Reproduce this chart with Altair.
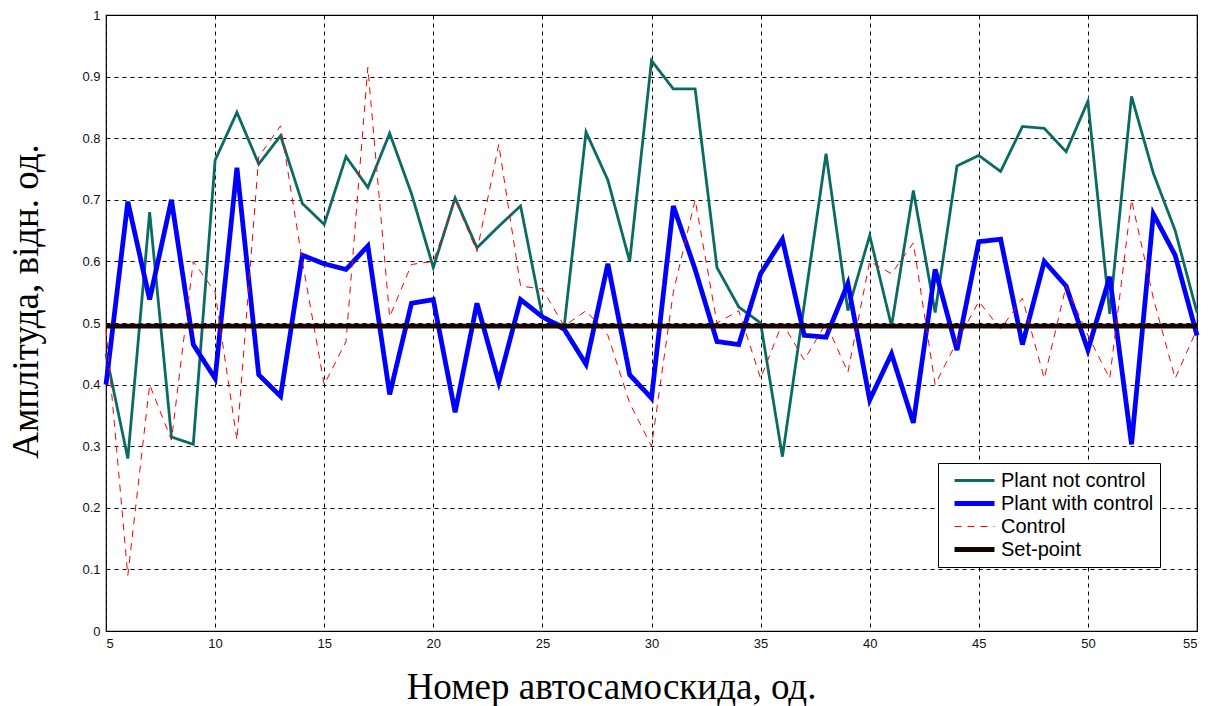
import altair as alt
import pandas as pd

x_vals = list(range(5, 56))

plant_not_control = [0.45, 0.28, 0.68, 0.315, 0.303, 0.764, 0.842, 0.758, 0.804, 0.694, 0.66,
                     0.77, 0.72, 0.808, 0.71, 0.59, 0.703, 0.622, 0.657, 0.69, 0.51,
                     0.495, 0.81, 0.732, 0.60, 0.926, 0.88, 0.88, 0.59, 0.526, 0.50,
                     0.283, 0.53, 0.775, 0.52, 0.642, 0.495, 0.715, 0.517, 0.755, 0.772,
                     0.746, 0.819, 0.816, 0.778, 0.86, 0.515, 0.868, 0.743, 0.65, 0.517]

plant_with_control = [0.40, 0.697, 0.538, 0.70, 0.465, 0.41, 0.752, 0.416, 0.381, 0.61, 0.596,
                      0.587, 0.625, 0.384, 0.532, 0.538, 0.355, 0.532, 0.404, 0.538, 0.51,
                      0.49, 0.433, 0.596, 0.416, 0.378, 0.69, 0.587, 0.47, 0.465, 0.58,
                      0.636, 0.48, 0.477, 0.564, 0.375, 0.45, 0.338, 0.587, 0.456, 0.632,
                      0.636, 0.465, 0.6, 0.56, 0.456, 0.575, 0.303, 0.677, 0.61, 0.48]

control = [0.49, 0.09, 0.40, 0.31, 0.60, 0.55, 0.31, 0.77, 0.82, 0.60, 0.40,
           0.47, 0.915, 0.51, 0.595, 0.60, 0.70, 0.616, 0.79, 0.56, 0.555,
           0.495, 0.52, 0.48, 0.37, 0.30, 0.55, 0.70, 0.50, 0.52, 0.41,
           0.50, 0.44, 0.50, 0.42, 0.60, 0.58, 0.63, 0.40, 0.47, 0.535,
           0.49, 0.54, 0.41, 0.56, 0.48, 0.41, 0.70, 0.54, 0.41, 0.49]

set_point_level = 0.495

series_names = ["Plant not control", "Plant with control", "Control", "Set-point"]
series_colors = ["#0a6b64", "#0000ff", "#ff0000", "#160404"]
series_dash = [[1, 0], [1, 0], [7, 6], [1, 0]]
series_width = [2.8, 4.8, 1.0, 4.8]

x_ticks = list(range(5, 56, 5))
y_ticks = [0, 0.1, 0.2, 0.3, 0.4, 0.5, 0.6, 0.7, 0.8, 0.9, 1]

rows = []
for name, vals in zip(series_names, [plant_not_control, plant_with_control, control,
                                     [set_point_level] * len(x_vals)]):
    for xv, yv in zip(x_vals, vals):
        rows.append({"x": xv, "y": yv, "series": name})
df = pd.DataFrame(rows)

legend = alt.Legend(
    title=None, orient="none", legendX=832, legendY=448,
    fillColor="white", strokeColor="black", padding=6,
    symbolType="stroke", symbolSize=1600, symbolOffset=8, clipHeight=23, rowPadding=0,
    labelFont="Liberation Sans", labelFontSize=20, labelColor="black",
    labelOffset=4, labelLimit=400,
    labelExpr="datum.label + '\u00a0\u00a0\u00a0'",
)

chart = alt.Chart(df).mark_line(strokeJoin="miter", strokeMiterLimit=4).encode(
    x=alt.X("x:Q", scale=alt.Scale(domain=[5, 55], nice=False, zero=False),
            axis=alt.Axis(values=x_ticks, title="Номер автосамоскида, од.",
                          titleX=505, titleY=56, titleBaseline="middle", titleAlign="center")),
    y=alt.Y("y:Q", scale=alt.Scale(domain=[0, 1], nice=False),
            axis=alt.Axis(values=y_ticks, format="~g", title="Амплітуда, відн. од.",
                          titleX=-80, titleY=286, titleBaseline="middle", titleAlign="center",
                          titleAngle=270)),
    color=alt.Color("series:N", scale=alt.Scale(domain=series_names, range=series_colors), legend=legend),
    strokeDash=alt.StrokeDash("series:N", scale=alt.Scale(domain=series_names, range=series_dash), legend=legend),
    strokeWidth=alt.StrokeWidth("series:N", scale=alt.Scale(type="ordinal", domain=series_names, range=series_width), legend=legend),
    order=alt.Order("x:Q"),
).properties(
    width=1091, height=616,
    background="white",
    autosize=alt.AutoSizeParams(type="none"),
    padding={"left": 106, "top": 15, "right": 13, "bottom": 75},
).configure_view(
    stroke="black", strokeWidth=1.2
).configure_axis(
    grid=True, gridColor="black", gridDash=[4, 4], gridOpacity=1, gridWidth=1,
    domain=False, ticks=False,
    labelFont="Liberation Sans", labelFontSize=13, labelColor="#111111", labelPadding=6,
    titleFont="Liberation Serif", titleFontSize=37, titleFontWeight="normal", titleColor="black",
)

chart.save("out.html", embed_options={"renderer": "svg", "actions": False})
